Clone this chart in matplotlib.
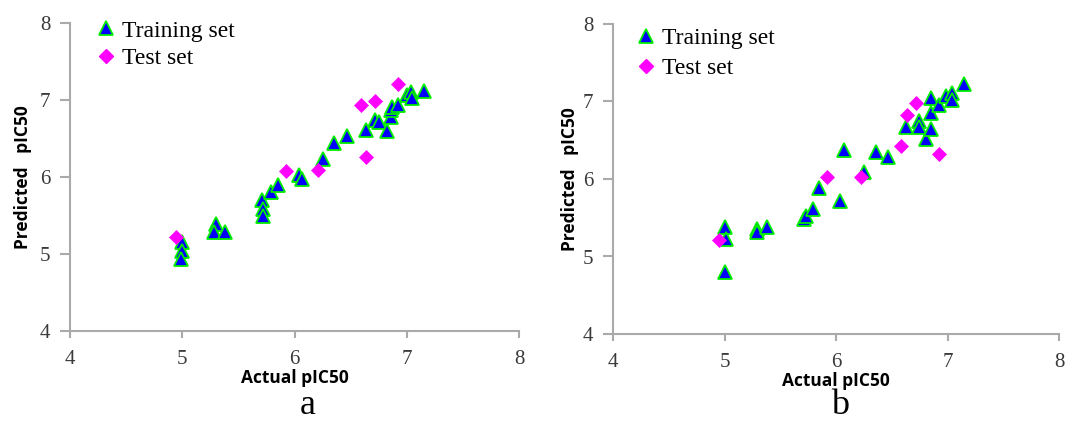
import matplotlib
matplotlib.use("Agg")
import matplotlib.pyplot as plt
from matplotlib.lines import Line2D

# panel a: actual vs predicted
train_a_x = [5.00, 5.00, 4.99, 5.30, 5.28, 5.38, 5.71, 5.72, 5.72, 5.79, 5.85, 6.04, 6.07,
             6.25, 6.35, 6.47, 6.64, 6.72, 6.75, 6.82, 6.86, 6.86, 6.87, 6.92, 7.00, 7.04,
             7.05, 7.15]
train_a_y = [5.16, 5.04, 4.93, 5.39, 5.29, 5.28, 5.70, 5.59, 5.50, 5.80, 5.90, 6.02, 5.97,
             6.23, 6.44, 6.53, 6.61, 6.74, 6.71, 6.60, 6.78, 6.87, 6.91, 6.94, 7.07, 7.11,
             7.02, 7.12]
test_a_x = [4.94, 5.92, 6.21, 6.59, 6.72, 6.64, 6.92]
test_a_y = [5.22, 6.08, 6.09, 6.93, 6.99, 6.26, 7.21]

# panel b
train_b_x = [5.00, 5.01, 5.00, 5.29, 5.29, 5.38, 5.71, 5.73, 5.79, 5.85, 6.04, 6.07, 6.25,
             6.36, 6.47, 6.63, 6.74, 6.74, 6.81, 6.85, 6.85, 6.85, 6.92, 6.99, 7.04, 7.04,
             7.15]
train_b_y = [5.38, 5.23, 4.80, 5.36, 5.32, 5.38, 5.49, 5.52, 5.61, 5.88, 5.71, 6.37, 6.09,
             6.35, 6.28, 6.67, 6.75, 6.67, 6.52, 6.65, 6.85, 7.04, 6.95, 7.07, 7.11, 7.02,
             7.22]
test_b_x = [4.95, 5.92, 6.22, 6.58, 6.64, 6.72, 6.92]
test_b_y = [5.21, 6.02, 6.02, 6.43, 6.83, 6.98, 6.32]

ticks = [4, 5, 6, 7, 8]
serif = "Liberation Serif"
sans = "Open Sans"
axis_gray = "#aaaaaa"

fig = plt.figure(figsize=(10.65, 4.22), dpi=100)

# rect, data, letter, letter x, legend anchor, legend spacing, ylabel pad
panels = [
    ([70 / 1065, 91 / 422, 449 / 1065, 308 / 422], train_a_x, train_a_y, test_a_x, test_a_y,
     "a", 308 / 1065, (0.038, 1.04), 0.25, 6),
    ([613 / 1065, 88 / 422, 446 / 1065, 310 / 422], train_b_x, train_b_y, test_b_x, test_b_y,
     "b", 840 / 1065, (0.031, 1.02), 0.38, 3),
]

for rect, tx, ty, sx, sy, letter, lx, anchor, lspace, ypad in panels:
    ax = fig.add_axes(rect)
    ax.plot(tx, ty, linestyle="none", marker="^", markersize=10.5, markerfacecolor="#0000ff",
            markeredgecolor="#00ee00", markeredgewidth=1.3, zorder=3)
    ax.plot(sx, sy, linestyle="none", marker="D", markersize=7, markerfacecolor="#ff00ff",
            markeredgecolor="#ff00ff", markeredgewidth=0.5, zorder=3)
    ax.set_xlim(4, 8)
    ax.set_ylim(4, 8)
    ax.set_xticks(ticks)
    ax.set_yticks(ticks)
    for side in ["top", "right"]:
        ax.spines[side].set_visible(False)
    for side in ["left", "bottom"]:
        ax.spines[side].set_color(axis_gray)
        ax.spines[side].set_linewidth(1.5)
    ax.tick_params(axis="both", color=axis_gray, width=1.5, labelcolor="#3a3a3a", labelsize=15)
    ax.tick_params(axis="y", length=7, pad=7)
    ax.tick_params(axis="x", length=5, pad=9)
    for lab in ax.get_xticklabels() + ax.get_yticklabels():
        lab.set_fontfamily(serif)
    ax.set_xlabel("Actual pIC50", fontfamily=sans, fontweight="bold", fontsize=12.5, labelpad=0)
    ax.set_ylabel("Predicted   pIC50", fontfamily=sans, fontweight="bold", fontsize=12.5, labelpad=ypad)

    handles = [
        Line2D([], [], linestyle="none", marker="^", markersize=10.5, markerfacecolor="#0000ff",
               markeredgecolor="#00ee00", markeredgewidth=1.3, label="Training set"),
        Line2D([], [], linestyle="none", marker="D", markersize=7, markerfacecolor="#ff00ff",
               markeredgecolor="#ff00ff", label="Test set"),
    ]
    ax.legend(handles=handles, loc="upper left", bbox_to_anchor=anchor, frameon=False,
              prop={"family": serif, "size": 17}, handlelength=0.8, handletextpad=0.3,
              labelspacing=lspace, borderaxespad=0)

    fig.text(lx, 0.0, letter, ha="center", va="bottom", fontfamily=serif, fontsize=26)

fig.savefig("out.png", dpi=100, facecolor="white")
